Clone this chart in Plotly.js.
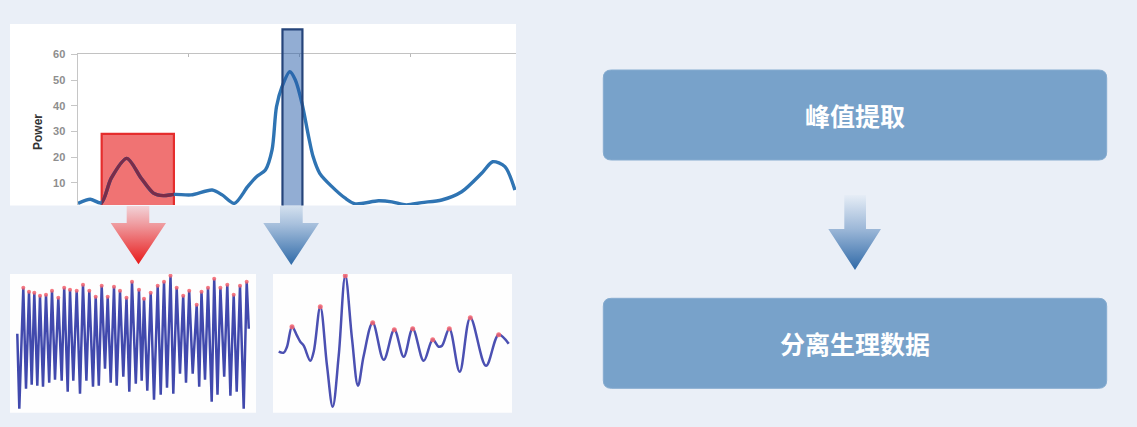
<!DOCTYPE html>
<html>
<head>
<meta charset="utf-8">
<script src="https://cdn.plot.ly/plotly-3.0.1.min.js"></script>
<style>
  html, body { margin: 0; padding: 0; background: #eaeff7; }
  #chart { width: 1137px; height: 427px; }
</style>
</head>
<body>
<div id="chart"></div>
<script>
// ---------------- data ----------------
// power spectrum (top-left chart)
const specX = [0.00, 0.11, 0.21, 0.30, 0.44, 0.57, 0.68, 0.77, 0.87, 1.02, 1.21, 1.30, 1.41, 1.53, 1.61, 1.69, 1.75, 1.79, 1.84, 1.91, 1.96, 2.02, 2.08, 2.12, 2.18, 2.29, 2.41, 2.50, 2.71, 2.83, 2.96, 3.10, 3.28, 3.46, 3.64, 3.74, 3.85, 3.94];
const specY = [2.0, 3.6, 2.2, 11.8, 19.5, 11.8, 6.0, 5.0, 5.5, 5.3, 7.2, 5.3, 2.0, 8.5, 12.4, 15.0, 22.8, 39.6, 47.4, 53.2, 50.0, 40.9, 27.9, 20.2, 13.7, 8.5, 4.0, 1.8, 3.0, 2.6, 1.4, 2.3, 3.3, 6.5, 13.7, 18.2, 16.3, 7.2];
const yTicks = [10, 20, 30, 40, 50, 60];
const powerLabel = "Power";

// highlighted bands on the spectrum (data units)
const redBand = { x0: 0.2135, x1: 0.865, top: 29 };
const blueBand = { x0: 1.844, x1: 2.024 };

// fast oscillating signal (bottom-left)
const fastT = [7.3, 9.3, 13.3, 16, 19, 21.7, 24.3, 27.3, 30, 33, 36, 39.2, 42, 45, 48.3, 51.7, 54.2, 57.7, 60, 63.3, 66.7, 70, 73, 76.4, 79.3, 83, 85.7, 88.8, 91.7, 95, 97.7, 100.7, 104, 106.7, 110, 113.3, 116.5, 119.3, 122, 125.8, 129, 131.7, 134, 137.3, 140.7, 144, 147.7, 150.7, 154, 157, 160.5, 163.3, 166.7, 170, 173.2, 176, 179.2, 182.7, 186.7, 189.2, 191.5, 195, 198, 201.7, 204.2, 207.5, 210.4, 214.2, 217.3, 220.4, 223.7, 226.7, 230, 233.7, 236.7, 238.8];
const fastA = [79, 4, 125, 24, 121, 28, 120, 27, 117, 26, 118, 30, 122, 33, 115, 32, 125, 21, 123, 32, 122, 19, 128, 32, 122, 26, 116, 27, 127, 44, 116, 30, 126, 27, 122, 36, 115, 21, 131, 29, 123, 32, 114, 22, 120, 13, 127, 18, 131, 25, 137, 19, 125, 39, 117, 30, 122, 39, 108, 26, 121, 33, 125, 11, 134, 18, 125, 36, 128, 17, 118, 21, 127, 4, 131, 84];

// slow separated signal (bottom-right)
const slowT = [5.7, 10.7, 14, 19, 24, 27.3, 30.7, 37.3, 40.7, 47.3, 54, 59.7, 65.7, 72.3, 79, 85, 90.7, 99.7, 110.7, 121.3, 130.7, 139.7, 150.7, 159.7, 165.7, 169, 176.3, 186.7, 197.3, 213, 225.7, 235.7];
const slowA = [61, 60, 66, 86, 77, 71, 67, 52, 61, 106, 47, 6, 57, 137, 74, 27, 57, 90, 53, 83, 56, 84, 52, 73, 66, 67, 84, 41, 95, 47, 78, 69];

// flow boxes
const steps = ["峰值提取", "分离生理数据"];

// ---------------- helpers ----------------
const W = 1137, H = 427;
const P = x => x / W;          // pixel x -> paper
const Q = y => 1 - y / H;      // pixel y -> paper

function localPeaks(t, a) {
  const pt = [], pa = [];
  for (let i = 1; i < a.length - 1; i++) {
    if (a[i] > a[i - 1] && a[i] > a[i + 1]) { pt.push(t[i]); pa.push(a[i]); }
  }
  return { t: pt, a: pa };
}
function roundRectPath(x0, y0, x1, y1, r) {
  const f = (x, y) => P(x) + ',' + Q(y);
  return 'M' + f(x0 + r, y0) + ' L' + f(x1 - r, y0) + ' Q' + f(x1, y0) + ' ' + f(x1, y0 + r) +
         ' L' + f(x1, y1 - r) + ' Q' + f(x1, y1) + ' ' + f(x1 - r, y1) +
         ' L' + f(x0 + r, y1) + ' Q' + f(x0, y1) + ' ' + f(x0, y1 - r) +
         ' L' + f(x0, y0 + r) + ' Q' + f(x0, y0) + ' ' + f(x0 + r, y0) + ' Z';
}

// main spectrum axes geometry
const xDom = [P(78), P(516)], xRange = [0, 3.95];
const yDom = [Q(205), Q(54.3)], yRange = [1.36, 60];
const xd = v => xDom[0] + (v - xRange[0]) / (xRange[1] - xRange[0]) * (xDom[1] - xDom[0]);
const yd = v => yDom[0] + (v - yRange[0]) / (yRange[1] - yRange[0]) * (yDom[1] - yDom[0]);

const fastPk = localPeaks(fastT, fastA);
const slowPk = localPeaks(slowT, slowA);

// ---------------- traces ----------------
const traces = [
  // spectrum
  { x: specX, y: specY, xaxis: 'x', yaxis: 'y', type: 'scatter', mode: 'lines',
    line: { color: '#2f74b3', width: 3.4, shape: 'spline', smoothing: 0.8 }, hoverinfo: 'skip' },
  // fast signal
  { x: fastT, y: fastA, xaxis: 'x2', yaxis: 'y2', type: 'scatter', mode: 'lines',
    line: { color: '#4149ad', width: 2.5 }, hoverinfo: 'skip' },
  { x: fastPk.t, y: fastPk.a, xaxis: 'x2', yaxis: 'y2', type: 'scatter', mode: 'markers',
    marker: { color: 'rgba(245,100,110,0.85)', size: 4 }, hoverinfo: 'skip' },
  // slow signal
  { x: slowT, y: slowA, xaxis: 'x3', yaxis: 'y3', type: 'scatter', mode: 'lines',
    line: { color: '#4b50b2', width: 2.5, shape: 'spline', smoothing: 1 }, hoverinfo: 'skip' },
  { x: slowPk.t, y: slowPk.a, xaxis: 'x3', yaxis: 'y3', type: 'scatter', mode: 'markers',
    marker: { color: 'rgba(245,100,110,0.85)', size: 5 }, hoverinfo: 'skip' },
  // arrows (pixel overlay axes)
  { x: [126.7, 149.3, 149.3, 166, 138.5, 110.7, 126.7, 126.7], y: [206, 206, 223, 223, 264.3, 223, 223, 206],
    xaxis: 'x4', yaxis: 'y4', type: 'scatter', mode: 'lines', line: { width: 0 }, fill: 'toself',
    fillgradient: { type: 'vertical', start: 206, stop: 264.3, colorscale: [[0, '#f2d2d7'], [0.3, '#ef9ea2'], [1, '#e81a1a']] },
    hoverinfo: 'skip' },
  { x: [280, 302.7, 302.7, 319, 291.3, 263.3, 280, 280], y: [206, 206, 223, 223, 265, 223, 223, 206],
    xaxis: 'x4', yaxis: 'y4', type: 'scatter', mode: 'lines', line: { width: 0 }, fill: 'toself',
    fillgradient: { type: 'vertical', start: 206, stop: 265, colorscale: [[0, '#d3e0ee'], [0.3, '#a9c1dd'], [1, '#2f6aa8']] },
    hoverinfo: 'skip' },
  { x: [844.3, 866, 866, 881, 855, 828.3, 844.3, 844.3], y: [195, 195, 229, 229, 270, 229, 229, 195],
    xaxis: 'x4', yaxis: 'y4', type: 'scatter', mode: 'lines', line: { width: 0 }, fill: 'toself',
    fillgradient: { type: 'vertical', start: 195, stop: 270, colorscale: [[0, '#e6edf6'], [0.45, '#9db8d8'], [1, '#2f69a7']] },
    hoverinfo: 'skip' },
  // spectrum seen through the red highlight (lens subplot)
  { x: specX, y: specY, xaxis: 'x5', yaxis: 'y5', type: 'scatter', mode: 'lines',
    line: { color: '#7a2c49', width: 3.4, shape: 'spline', smoothing: 0.8 }, hoverinfo: 'skip' }
];

// ---------------- layout ----------------
const hidden = { visible: false, fixedrange: true };
const layout = {
  width: W, height: H,
  margin: { l: 0, r: 0, t: 0, b: 0, pad: 0 },
  paper_bgcolor: '#eaeff7',
  plot_bgcolor: 'rgba(0,0,0,0)',
  showlegend: false,
  xaxis: { domain: xDom, range: xRange, anchor: 'y', side: 'top', showline: true, linecolor: '#c2c2c2', linewidth: 1,
           ticks: 'inside', ticklen: 3, tickcolor: '#b8b8b8', tick0: 0, dtick: 1, showticklabels: false,
           showgrid: false, zeroline: false, fixedrange: true },
  yaxis: { domain: yDom, range: yRange, anchor: 'x', showline: true, linecolor: '#c6c6c6', linewidth: 1.5,
           tickmode: 'array', tickvals: yTicks, ticktext: yTicks.map(String),
           ticks: 'outside', ticklen: 6, tickcolor: '#c6c6c6', ticklabelstandoff: 3,
           tickfont: { family: 'Liberation Sans, Arial, sans-serif', size: 11, color: '#8e8e8e', weight: 'bold' },
           showgrid: false, zeroline: false, fixedrange: true },
  xaxis2: Object.assign({ domain: [P(10), P(256)], range: [0, 246], anchor: 'y2' }, hidden),
  yaxis2: Object.assign({ domain: [Q(412.7), Q(274)], range: [0, 138.7], anchor: 'x2' }, hidden),
  xaxis3: Object.assign({ domain: [P(273), P(512)], range: [0, 239], anchor: 'y3' }, hidden),
  yaxis3: Object.assign({ domain: [Q(412.7), Q(274)], range: [0, 138.7], anchor: 'x3' }, hidden),
  xaxis4: Object.assign({ domain: [0, 1], range: [0, W], anchor: 'y4' }, hidden),
  yaxis4: Object.assign({ domain: [0, 1], range: [H, 0], anchor: 'x4' }, hidden),
  xaxis5: Object.assign({ domain: [xd(redBand.x0), xd(redBand.x1)], range: [redBand.x0, redBand.x1], anchor: 'y5' }, hidden),
  yaxis5: Object.assign({ domain: [yDom[0], yd(redBand.top)], range: [yRange[0], redBand.top], anchor: 'x5' }, hidden),
  shapes: [
    // white panels
    { type: 'rect', xref: 'paper', yref: 'paper', layer: 'below', x0: P(10), x1: P(516), y0: Q(205.5), y1: Q(24),
      fillcolor: '#ffffff', line: { width: 0 } },
    { type: 'rect', xref: 'paper', yref: 'paper', layer: 'below', x0: P(10), x1: P(256), y0: Q(412.7), y1: Q(274),
      fillcolor: '#fefefe', line: { width: 0 } },
    { type: 'rect', xref: 'paper', yref: 'paper', layer: 'below', x0: P(273), x1: P(512), y0: Q(412.7), y1: Q(274),
      fillcolor: '#fefefe', line: { width: 0 } },
    // red highlight band (under the curve)
    { type: 'rect', xref: 'x', yref: 'y', layer: 'below', x0: redBand.x0, x1: redBand.x1, y0: -5, y1: redBand.top,
      fillcolor: '#f07373', line: { color: '#e52d2d', width: 2.2 } },
    // blue highlight bar (over the curve)
    { type: 'path', xref: 'x', yref: 'paper', layer: 'above',
      path: 'M' + blueBand.x0 + ',' + Q(205.5) + ' L' + blueBand.x0 + ',' + Q(29.3) + ' L' + blueBand.x1 + ',' + Q(29.3) + ' L' + blueBand.x1 + ',' + Q(205.5),
      fillcolor: 'rgba(38,92,168,0.5)', line: { color: '#25447a', width: 2.2 } },
    // flow boxes
    { type: 'path', xref: 'paper', yref: 'paper', layer: 'below', path: roundRectPath(603.3, 70, 1106.7, 160, 8),
      fillcolor: '#78a2ca', line: { color: '#86acd0', width: 1 } },
    { type: 'path', xref: 'paper', yref: 'paper', layer: 'below', path: roundRectPath(603.3, 298.3, 1106.7, 388.3, 8),
      fillcolor: '#78a2ca', line: { color: '#86acd0', width: 1 } }
  ],
  annotations: [
    { text: powerLabel, xref: 'paper', yref: 'paper', x: P(37.5), y: Q(132.5), xanchor: 'center', yanchor: 'middle',
      textangle: -90, showarrow: false,
      font: { family: 'Liberation Sans, Arial, sans-serif', size: 12, color: '#333333', weight: 'bold' } },
    { text: steps[0], xref: 'paper', yref: 'paper', x: P(855), y: Q(115), xanchor: 'center', yanchor: 'middle',
      showarrow: false, font: { family: 'Noto Sans CJK SC, sans-serif', size: 25, color: '#ffffff', weight: 'bold' } },
    { text: steps[1], xref: 'paper', yref: 'paper', x: P(855), y: Q(343), xanchor: 'center', yanchor: 'middle',
      showarrow: false, font: { family: 'Noto Sans CJK SC, sans-serif', size: 25, color: '#ffffff', weight: 'bold' } }
  ]
};

Plotly.newPlot('chart', traces, layout, { staticPlot: true, displayModeBar: false });
</script>
</body>
</html>
